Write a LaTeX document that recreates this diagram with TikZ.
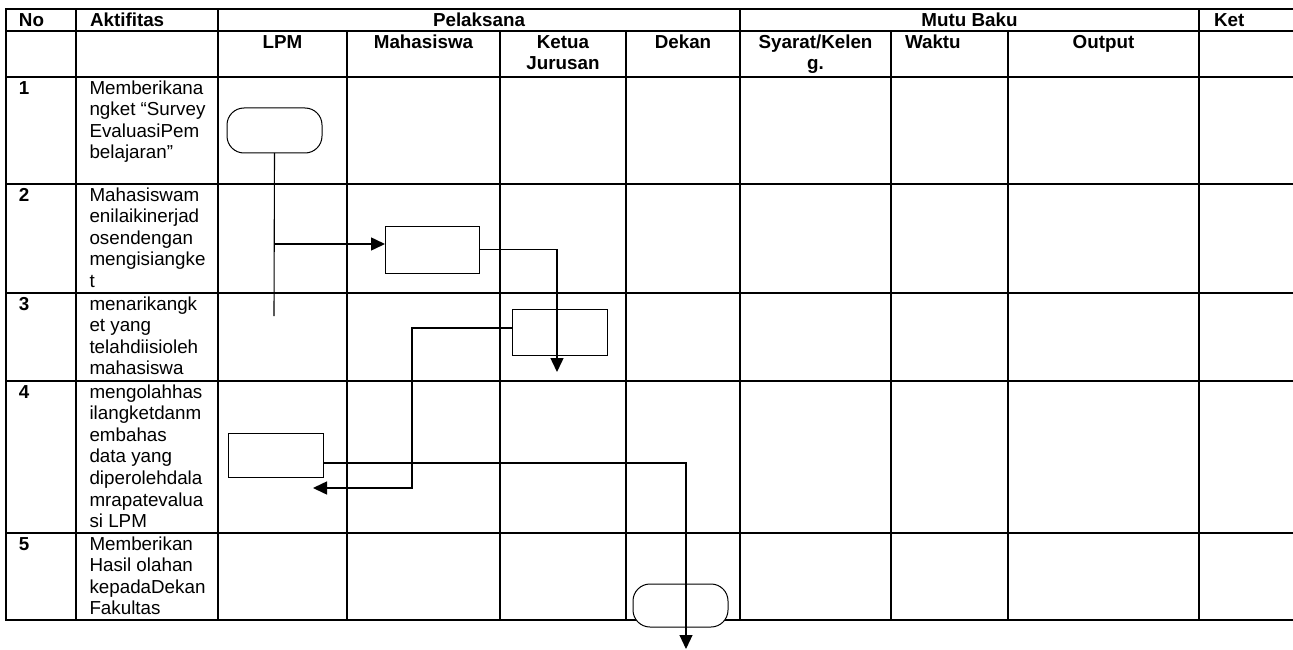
\documentclass[tikz,border=0pt]{standalone}
\usepackage{fontspec}
\setmainfont{Liberation Sans}
\usetikzlibrary{arrows.meta}
\begin{document}
\begin{tikzpicture}[x=1pt,y=-1pt,
  grid/.style={line width=1.3pt, line cap=rect},
  txt/.style={inner sep=0pt, outer sep=0pt, anchor=north west, align=left,
    font=\fontsize{18.8}{21.6}\selectfont},
  hl/.style={txt, font=\fontsize{18.8}{21.6}\selectfont\bfseries},
  hc/.style={hl, anchor=north, align=center},
  term/.style={draw, line width=1pt, rounded corners=17pt, minimum width=95pt,
    minimum height=45pt, inner sep=0pt, outer sep=0pt, fill=white},
  procbox/.style={draw, line width=1pt, minimum width=95pt, minimum height=46pt,
    inner sep=0pt, outer sep=0pt},
  conn/.style={line width=1.5pt},
  thinconn/.style={line width=1.1pt},
  arr/.style={-{Triangle[length=14pt,width=13pt]}}
]
\useasboundingbox (0,0) rectangle (1293,650);
\clip (0,0) rectangle (1293,650);
% table grid
\foreach \y in {9,31,77,184,293,381,533,620}
  \draw[grid] (6,\y) -- (1310,\y);
\foreach \x in {6,76,218,740,1199}
  \draw[grid] (\x,9) -- (\x,620);
\foreach \x in {347,500,626,891,1008}
  \draw[grid] (\x,31) -- (\x,620);

% flow shapes
\node[term] (t1) at (274.5,130.5) {};
\node[procbox, minimum width=94pt, minimum height=47pt] (b2) at (432,249.5) {};
\node[procbox] (b3) at (559.5,332) {};
\node[procbox, minimum height=44pt] (b4) at (275.5,455) {};
\node[term, minimum height=43pt] (t5) at (680.5,605.5) {};

% connectors
\coordinate (j1) at (274,316);
\coordinate (br1) at (274,244);
\draw[thinconn] (t1.south) -- (j1);
\draw[conn,arr] (br1) -- (br1 -| b2.west);
\coordinate (e2) at (557,372);
\draw[conn,arr] (b2.east) -| (e2);
\coordinate (k3) at (412,488);
\coordinate (e3) at (313,488);
\draw[conn,arr] ([yshift=4pt]b3.west) -| (k3) -- (e3);
\coordinate (e4) at (686,649);
\draw[thinconn,arr] ([yshift=-8pt]b4.east) -| (e4);

% header texts
\node[hl] (hNo) at (19,10.9) {\strut No};
\node[hl] (hAkt) at (90,10.9) {\strut Aktifitas};
\node[hc] (hPel) at (479,10.9) {\strut Pelaksana};
\node[hc] (hMutu) at (969.5,10.9) {\strut Mutu Baku};
\node[hl] (hKet) at (1214,10.9) {\strut Ket};
\node[hc] (hLPM) at (282.5,32.9) {\strut LPM};
\node[hc] (hMhs) at (423.5,32.9) {\strut Mahasiswa};
\node[hc] (hKaj) at (563,32.9) {\strut Ketua\\Jurusan};
\node[hc] (hDek) at (683,32.9) {\strut Dekan};
\node[hc] (hSyr) at (815.5,32.9) {\strut Syarat/Kelen\\g.};
\node[hl] (hWkt) at (905,32.9) {\strut Waktu};
\node[hc] (hOut) at (1103.5,32.9) {\strut Output};

% row numbers
\node[hl] (n1) at (19,78.9) {\strut 1};
\node[hl] (n2) at (19,185.9) {\strut 2};
\node[hl] (n3) at (19,294.9) {\strut 3};
\node[hl] (n4) at (19,382.9) {\strut 4};
\node[hl] (n5) at (19,534.9) {\strut 5};

% activities
\node[txt] (a1) at (89.5,78.9) {\strut Memberikana\\ngket “Survey\\EvaluasiPem\\belajaran”};
\node[txt] (a2) at (89.5,185.9) {\strut Mahasiswam\\enilaikinerjad\\osendengan\\mengisiangke\\t};
\node[txt] (a3) at (89.5,294.9) {\strut menarikangk\\et yang\\telahdiisioleh\\mahasiswa};
\node[txt] (a4) at (89.5,382.9) {\strut mengolahhas\\ilangketdanm\\embahas\\data yang\\diperolehdala\\mrapatevalua\\si LPM};
\node[txt] (a5) at (89.5,534.9) {\strut Memberikan\\Hasil olahan\\kepadaDekan\\Fakultas};
\end{tikzpicture}
\end{document}
